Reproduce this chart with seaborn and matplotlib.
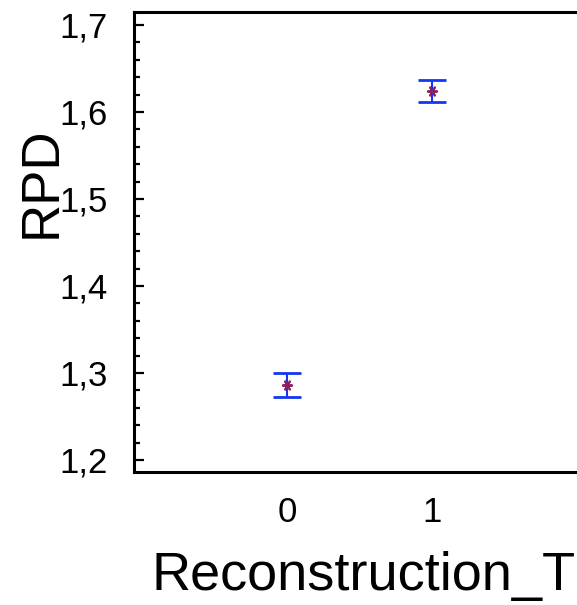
import matplotlib
matplotlib.use("Agg")
import matplotlib.pyplot as plt
import matplotlib.ticker as mticker
import numpy as np
import pandas as pd
import seaborn as sns

# Group means of RPD with their error-bar limits
groups = [0, 1]
rpd_mean = [1.286, 1.624]
rpd_low = [1.272, 1.612]
rpd_high = [1.300, 1.637]

df = pd.DataFrame({"Reconstruction_T": groups, "RPD": rpd_mean})

sns.set_style("white")
plt.rcParams["font.family"] = ["Liberation Sans", "DejaVu Sans"]
for key in ["text.color", "axes.labelcolor", "xtick.color", "ytick.color"]:
    plt.rcParams[key] = "black"

fig = plt.figure(figsize=(5.77, 6.05), dpi=100)
W, H = 577, 605
x0, x1 = 134, 586
y_top, y_bot = 12, 472
ax = fig.add_axes([x0 / W, (H - y_bot) / H, (x1 - x0) / W, (y_bot - y_top) / H])

yerr = np.array([np.subtract(rpd_mean, rpd_low), np.subtract(rpd_high, rpd_mean)])
ax.errorbar(df["Reconstruction_T"], df["RPD"], yerr=yerr, fmt="none",
            ecolor="#1536f0", elinewidth=1.5, capsize=10, capthick=2.0, zorder=2)
sns.scatterplot(data=df, x="Reconstruction_T", y="RPD", ax=ax, marker=(6, 2, 90),
                s=45, color="#8c1f5e", edgecolor="#8c1f5e", linewidth=1.4,
                zorder=3, legend=False)

ax.set_xlim(-1.055, 2.06)
ax.set_ylim(1.1862, 1.7149)
ax.set_xticks(groups)
ax.set_xticklabels([str(g) for g in groups])
ax.yaxis.set_major_locator(mticker.MultipleLocator(0.1))
ax.yaxis.set_minor_locator(mticker.MultipleLocator(0.02))
ax.yaxis.set_major_formatter(mticker.FuncFormatter(lambda v, p: f"{v:.1f}".replace(".", ",")))

ax.tick_params(axis="y", which="major", direction="in", length=7, width=1.6,
               labelsize=25, pad=19, left=True, right=False)
ax.tick_params(axis="y", which="minor", direction="in", length=4, width=1.6,
               left=True, right=False)
ax.tick_params(axis="x", which="both", length=0, labelsize=25, pad=17, bottom=True)

for side in ["left", "bottom", "top"]:
    ax.spines[side].set_visible(True)
    ax.spines[side].set_linewidth(2.2)
    ax.spines[side].set_color("black")
ax.spines["right"].set_visible(False)

ax.set_ylabel("RPD", fontsize=38)
ax.yaxis.set_label_coords((42 - x0) / (x1 - x0), (y_bot - 182) / (y_bot - y_top))
ax.set_xlabel("Reconstruction_T", fontsize=39)
ax.xaxis.set_label_coords((151 - x0) / (x1 - x0), -(576 - y_bot) / (y_bot - y_top))
ax.xaxis.label.set_ha("left")
ax.xaxis.label.set_va("center")
ax.yaxis.label.set_va("center")

fig.savefig("out.png", dpi=100)
